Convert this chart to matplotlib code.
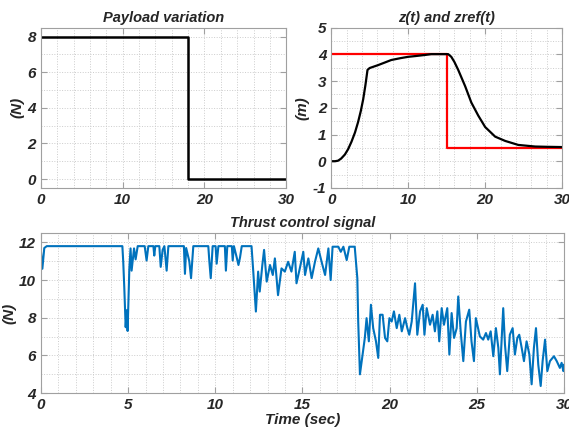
import matplotlib
matplotlib.use("Agg")
import matplotlib.pyplot as plt
from matplotlib.ticker import MultipleLocator

plt.rcParams['font.family'] = ['Liberation Sans', 'DejaVu Sans']
plt.rcParams['font.weight'] = 'bold'
plt.rcParams['font.style'] = 'italic'
plt.rcParams['axes.titleweight'] = 'bold'
plt.rcParams['axes.labelweight'] = 'bold'
plt.rcParams['axes.unicode_minus'] = False

# payload (N)
payload_t = [0, 18, 18, 30]
payload_v = [8, 8, 0, 0]

# altitude and reference (m)
z_t = [0, 0.5, 0.9, 1.3, 1.78, 2.2, 2.64, 3.1, 3.5, 3.85, 4.16, 4.45, 4.72, 5.0, 6.1, 7.0, 7.8, 9.0, 10.0,
       11.0, 12.2, 13.0, 14.0, 15.2, 15.6, 16.0, 16.5, 17.4, 18.2, 19.1, 20.0, 21.3, 22.6, 24.3, 26.5, 28.0, 30.0]
z_v = [0, 0, 0.02, 0.1, 0.25, 0.45, 0.73, 1.08, 1.47, 1.88, 2.32, 2.85, 3.42, 3.49, 3.6, 3.7, 3.79, 3.86, 3.91,
       3.94, 3.98, 4.01, 4.01, 4.01, 3.91, 3.72, 3.42, 2.81, 2.2, 1.71, 1.28, 0.92, 0.76, 0.61, 0.55, 0.54, 0.53]
zref_t = [0, 15, 15, 30]
zref_v = [4, 4, 0.5, 0.5]

# thrust control signal (N)
thrust_t = [0, 0.08, 0.19, 0.33, 4.67, 4.72, 4.78, 4.86, 4.92, 4.97,
            5.07, 5.14, 5.2, 5.34, 5.43, 5.55, 5.95, 6.06, 6.16, 6.45, 6.5, 6.56,
            6.79, 6.87, 6.98, 7.08, 7.21, 7.31, 8.2, 8.26, 8.33, 8.51, 8.61, 8.74,
            9.6, 9.66, 9.74, 9.85, 10.02, 10.08, 10.18, 10.55, 10.61, 10.69,
            10.95, 11.0, 11.07, 11.23, 11.33, 11.42, 11.52,
            12.08, 12.18, 12.33, 12.46, 12.55, 12.7, 12.8, 12.95, 13.14, 13.3, 13.42, 13.6, 13.8, 13.99,
            14.18, 14.37, 14.56, 14.66, 14.85, 15.05, 15.15, 15.34, 15.53, 15.72, 15.91, 16.1, 16.3,
            16.49, 16.62, 16.73, 17.06, 17.2, 17.35, 17.54, 17.69, 18.0, 18.15, 18.2, 18.3, 18.45,
            18.58, 18.68, 18.81, 18.93, 19.06, 19.22, 19.35, 19.45, 19.6, 19.74, 19.87, 19.99, 20.12,
            20.25, 20.41, 20.56, 20.7, 20.89, 21.02, 21.13, 21.27, 21.46, 21.59, 21.75, 21.9, 22.0,
            22.13, 22.32, 22.47, 22.6, 22.74, 22.85, 22.99, 23.12, 23.31, 23.43, 23.56, 23.7, 23.85,
            23.94, 24.08, 24.23, 24.38, 24.57, 24.7, 24.84, 24.95, 25.18, 25.37, 25.53, 25.66, 25.8,
            25.95, 26.1, 26.24, 26.33, 26.52, 26.62, 26.75, 26.9, 27.06, 27.19, 27.33, 27.44, 27.58,
            27.71, 27.86, 28.02, 28.15, 28.28, 28.4, 28.53, 28.67, 28.78, 28.92, 29.05, 29.2, 29.43,
            29.59, 29.77, 29.87, 29.97, 30.0]
thrust_v = [11.5, 10.6, 11.7, 11.8, 11.8, 10.97, 9.6, 7.5, 8.4, 7.3,
            10.6, 11.68, 10.5, 11.68, 11.1, 11.8, 11.8, 11.04, 11.8, 11.8, 11.3, 11.8,
            11.8, 10.7, 11.6, 11.8, 10.5, 11.8, 11.8, 10.33, 11.7, 11.0, 10.1, 11.8,
            11.8, 11.0, 10.1, 11.8, 11.8, 10.87, 11.8, 11.8, 10.5, 11.8,
            11.8, 11.04, 11.8, 11.2, 10.8, 11.2, 11.8,
            11.8, 10.45, 8.33, 10.45, 9.39, 10.8, 11.6, 9.92, 10.8, 10.27, 11.15, 9.2, 10.62, 10.45,
            10.97, 10.45, 11.5, 9.83, 10.62, 11.5, 10.27, 11.15, 10.1, 10.97, 11.68, 10.97, 10.27,
            11.68, 10.0, 11.77, 11.77, 11.5, 11.77, 11.06, 11.77, 11.77, 10.1, 7.8, 5.0, 6.05,
            6.93, 7.98, 6.75, 8.69, 7.45, 6.75, 5.87, 8.16, 8.16, 6.93, 6.75, 7.98, 7.8,
            8.34, 7.45, 8.16, 7.28, 7.98, 7.45, 7.1, 7.8, 9.83, 7.1, 8.34, 8.69, 7.1,
            8.51, 7.63, 8.16, 7.28, 8.34, 6.75, 8.51, 7.63, 8.51, 6.05, 8.25, 6.93, 7.45,
            9.13, 7.28, 5.7, 7.8, 8.43, 6.75, 5.7, 7.98, 7.01, 6.84, 7.19, 6.84, 7.28,
            5.96, 7.45, 6.4, 5.0, 8.51, 6.58, 5.17, 7.1, 7.45, 6.05, 6.93, 7.1, 6.4,
            5.7, 6.75, 6.05, 4.47, 6.4, 7.45, 5.52, 4.38, 5.7, 6.84, 5.17, 5.7, 5.96,
            5.7, 5.34, 5.61, 5.17, 5.5]

TXT = '#262626'
EDGE = '#a0a0a0'


def style(ax, xmaj, xmin, ymaj, ymin):
    ax.xaxis.set_major_locator(MultipleLocator(xmaj))
    ax.xaxis.set_minor_locator(MultipleLocator(xmin))
    ax.yaxis.set_major_locator(MultipleLocator(ymaj))
    ax.yaxis.set_minor_locator(MultipleLocator(ymin))
    ax.grid(True, which='both', linestyle=':', color='#cccccc', linewidth=0.7)
    ax.set_axisbelow(True)
    for s in ax.spines.values():
        s.set_color(EDGE)
        s.set_linewidth(0.8)
    ax.tick_params(which='both', direction='in', top=True, right=True, color=EDGE,
                   labelcolor=TXT, labelsize=11)
    ax.tick_params(which='minor', length=0)
    ax.tick_params(which='major', length=4)


fig = plt.figure(figsize=(5.69, 4.33), dpi=100)

ax1 = fig.add_axes([0.072, 0.566, 0.431, 0.37])
ax1.plot(payload_t, payload_v, color='black', linewidth=1.8)
ax1.set_xlim(0, 30)
ax1.set_ylim(-0.5, 8.5)
style(ax1, 10, 2, 2, 1)
ax1.set_title('Payload variation', fontsize=10.5, color=TXT, pad=4)
ax1.set_ylabel('(N)', fontsize=11, color=TXT, labelpad=2)

ax2 = fig.add_axes([0.582, 0.566, 0.406, 0.37])
ax2.plot(zref_t, zref_v, color='red', linewidth=1.6)
ax2.plot(z_t, z_v, color='black', linewidth=1.6)
ax2.set_xlim(0, 30)
ax2.set_ylim(-1, 5)
style(ax2, 10, 2, 1, 0.5)
ax2.set_title('z(t) and zref(t)', fontsize=10.5, color=TXT, pad=4)
ax2.set_ylabel('(m)', fontsize=11, color=TXT, labelpad=2)

ax3 = fig.add_axes([0.072, 0.092, 0.919, 0.37])
ax3.plot(thrust_t, thrust_v, color='#0072BD', linewidth=1.5)
ax3.set_xlim(0, 30)
ax3.set_ylim(4, 12.5)
style(ax3, 5, 1, 2, 1)
ax3.set_title('Thrust control signal', fontsize=10.5, color=TXT, pad=4)
ax3.set_ylabel('(N)', fontsize=11, color=TXT, labelpad=2)
ax3.set_xlabel('Time (sec)', fontsize=11, color=TXT, labelpad=1)

fig.savefig('out.png', dpi=100)
